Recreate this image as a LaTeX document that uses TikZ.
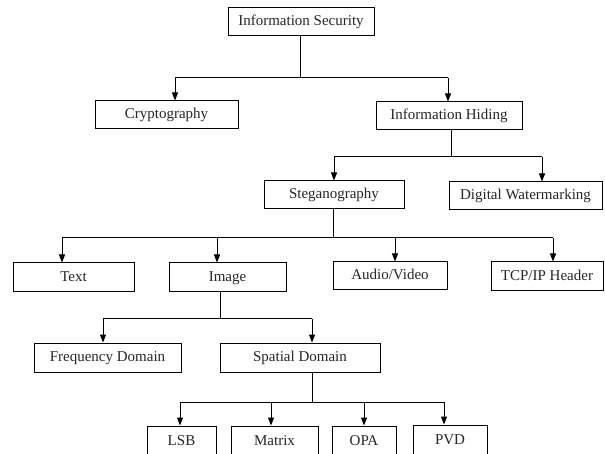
\documentclass[tikz,border=0pt]{standalone}
\usepackage{fontspec}
\setmainfont{Liberation Serif}
\usetikzlibrary{arrows.meta}
\begin{document}
\begin{tikzpicture}[x=1pt,y=-1pt,
  box/.style={draw=black,line width=1pt,inner sep=0pt,font=\fontsize{15}{18}\selectfont,text=black!85,text height=10.5pt,text depth=2.5pt},
  link/.style={line width=1pt,draw=black},
  arr/.style={link,-{Triangle[width=6pt,length=8pt]}}]
\useasboundingbox (0,0) rectangle (605,454);
\fill[white] (0,0) rectangle (605,454);
\clip (0,0) rectangle (605,454);
% boxes
\node[box,minimum width=146pt,minimum height=28pt] (is) at (301,22) {Information Security};
\node[box,minimum width=143pt,minimum height=28pt] (cr) at (166.5,115) {Cryptography};
\node[box,minimum width=146pt,minimum height=28pt] (ih) at (449,116) {Information Hiding};
\node[box,minimum width=140pt,minimum height=28pt] (st) at (334,195) {Steganography};
\node[box,minimum width=153pt,minimum height=28pt] (dw) at (525.5,196) {Digital Watermarking};
\node[box,minimum width=121pt,minimum height=29pt] (tx) at (73.5,277.5) {Text};
\node[box,minimum width=117pt,minimum height=29pt] (im) at (227.5,277.5) {Image};
\node[box,minimum width=114pt,minimum height=28pt] (av) at (390,276) {Audio/Video};
\node[box,minimum width=112pt,minimum height=29pt] (tcp) at (547,276.5) {TCP/IP Header};
\node[box,minimum width=147pt,minimum height=29pt] (fd) at (107.5,357.5) {Frequency Domain};
\node[box,minimum width=160pt,minimum height=29pt] (sd) at (300,357.5) {Spatial Domain};
\node[box,minimum width=69pt,minimum height=30pt] (lsb) at (181.5,441) {LSB};
\node[box,minimum width=87pt,minimum height=30pt] (mx) at (274.5,441) {Matrix};
\node[box,minimum width=64pt,minimum height=30pt] (opa) at (364,441) {OPA};
\node[box,minimum width=74pt,minimum height=30pt] (pvd) at (450,440) {PVD};
% level 1
\coordinate (a0) at (300,78);
\coordinate (a1) at (175,78);
\coordinate (a2) at (448,78);
\draw[link] (is.south -| a0) -- (a0);
\draw[link] (a1) -- (a2);
\draw[arr] (a1) -- (a1 |- cr.north);
\draw[arr] (a2) -- (a2 |- ih.north);
% level 2
\coordinate (b0) at (451,157);
\coordinate (b1) at (334,157);
\coordinate (b2) at (542,157);
\draw[link] (ih.south -| b0) -- (b0);
\draw[link] (b1) -- (b2);
\draw[arr] (b1) -- (b1 |- st.north);
\draw[arr] (b2) -- (b2 |- dw.north);
% level 3
\coordinate (c0) at (333,238);
\coordinate (c1) at (62,238);
\coordinate (c2) at (217,238);
\coordinate (c3) at (395,238);
\coordinate (c4) at (553,238);
\draw[link] (st.south -| c0) -- (c0);
\draw[link] (c1) -- (c4);
\draw[arr] (c1) -- (c1 |- tx.north);
\draw[arr] (c2) -- (c2 |- im.north);
\draw[arr] (c3) -- (c3 |- av.north);
\draw[arr] (c4) -- (c4 |- tcp.north);
% level 4
\coordinate (d0) at (220,319);
\coordinate (d1) at (103,319);
\coordinate (d2) at (312,319);
\draw[link] (im.south -| d0) -- (d0);
\draw[link] (d1) -- (d2);
\draw[arr] (d1) -- (d1 |- fd.north);
\draw[arr] (d2) -- (d2 |- sd.north);
% level 5
\coordinate (e0) at (312,402);
\coordinate (e1) at (180,402);
\coordinate (e2) at (271,402);
\coordinate (e3) at (364,402);
\coordinate (e4) at (444,402);
\draw[link] (sd.south -| e0) -- (e0);
\draw[link] (e1) -- (e4);
\draw[arr] (e1) -- (e1 |- lsb.north);
\draw[arr] (e2) -- (e2 |- mx.north);
\draw[arr] (e3) -- (e3 |- opa.north);
\draw[arr] (e4) -- (e4 |- pvd.north);
\end{tikzpicture}
\end{document}
